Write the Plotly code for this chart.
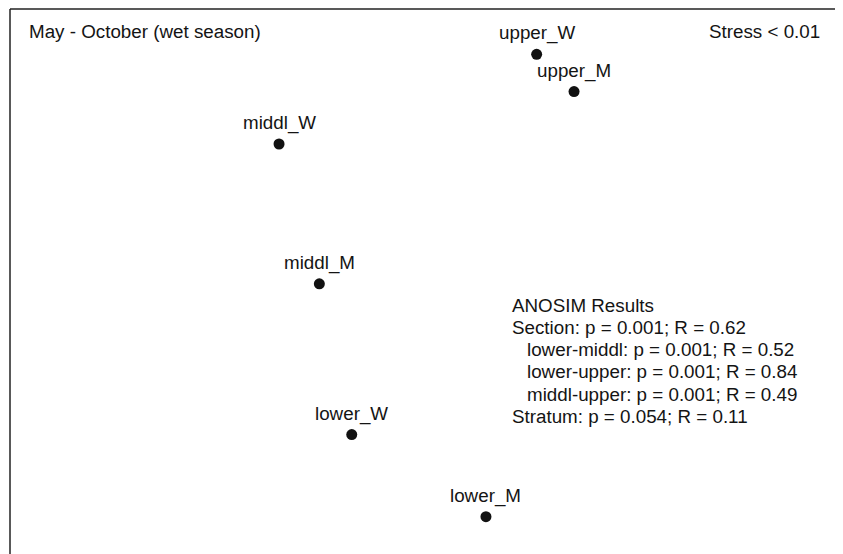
import plotly.graph_objects as go

# NMDS site coordinates (arbitrary units)
sites = ["upper_W", "upper_M", "middl_W", "middl_M", "lower_W", "lower_M"]
nmds1 = [0.535, 0.715, -0.705, -0.511, -0.355, 0.291]
nmds2 = [1.084, 0.906, 0.656, -0.011, -0.730, -1.122]

title_text = "May - October (wet season)"
stress_text = "Stress < 0.01"
anosim_lines = [
    "ANOSIM Results",
    "Section: p = 0.001; R = 0.62",
    "lower-middl: p = 0.001; R = 0.52",
    "lower-upper: p = 0.001; R = 0.84",
    "middl-upper: p = 0.001; R = 0.49",
    "Stratum: p = 0.054; R = 0.11",
]
anosim_indent = [False, False, True, True, True, False]

OFF = 8  # browser default body margin
W, H = 835, 546
ML, MR, MT, MB = 2, 2, 1, 0
FONT = dict(family="Liberation Sans, Arial, Helvetica, sans-serif", size=18.8, color="#141414")


def px_x(p):
    return (p - OFF - ML) / (W - ML - MR)


def px_y(p):
    return (H - MB - (p - OFF)) / (H - MT - MB)


fig = go.Figure()
fig.add_trace(go.Scatter(
    x=nmds1, y=nmds2, mode="markers",
    marker=dict(size=11, color="#111111"),
    hoverinfo="text", text=sites, showlegend=False,
))

annotations = []
for s, x, y in zip(sites, nmds1, nmds2):
    annotations.append(dict(x=x, y=y, xref="x", yref="y", text=s, showarrow=False,
                            xanchor="center", yanchor="middle", yshift=21, font=FONT))

annotations.append(dict(x=px_x(26.5), y=px_y(31.5), xref="paper", yref="paper", text=title_text,
                        showarrow=False, xanchor="left", yanchor="middle", font=FONT))
annotations.append(dict(x=px_x(822), y=px_y(31.5), xref="paper", yref="paper", text=stress_text,
                        showarrow=False, xanchor="right", yanchor="middle", font=FONT))

line_y = [305, 327.3, 349.6, 371.9, 394.2, 416.5]
for txt, ind, py in zip(anosim_lines, anosim_indent, line_y):
    annotations.append(dict(x=px_x(525 if ind else 510), y=px_y(py), xref="paper", yref="paper",
                            text=txt, showarrow=False, xanchor="left", yanchor="middle", font=FONT))

border = dict(color="#222222", width=1.5)
shapes = [
    dict(type="line", xref="paper", yref="paper", x0=0, x1=0, y0=-0.05, y1=1, line=border),
    dict(type="line", xref="paper", yref="paper", x0=0, x1=1, y0=1, y1=1, line=border),
    dict(type="line", xref="paper", yref="paper", x0=1, x1=1, y0=-0.05, y1=1, line=border),
]

fig.update_layout(
    width=W, height=H,
    margin=dict(l=ML, r=MR, t=MT, b=MB),
    paper_bgcolor="white", plot_bgcolor="white",
    xaxis=dict(range=[-2.0, 2.0], visible=False, fixedrange=True),
    yaxis=dict(range=[-1.3, 1.3], visible=False, fixedrange=True),
    annotations=annotations,
    shapes=shapes,
    showlegend=False,
)

fig.write_html("out.html", config={"displayModeBar": False})
